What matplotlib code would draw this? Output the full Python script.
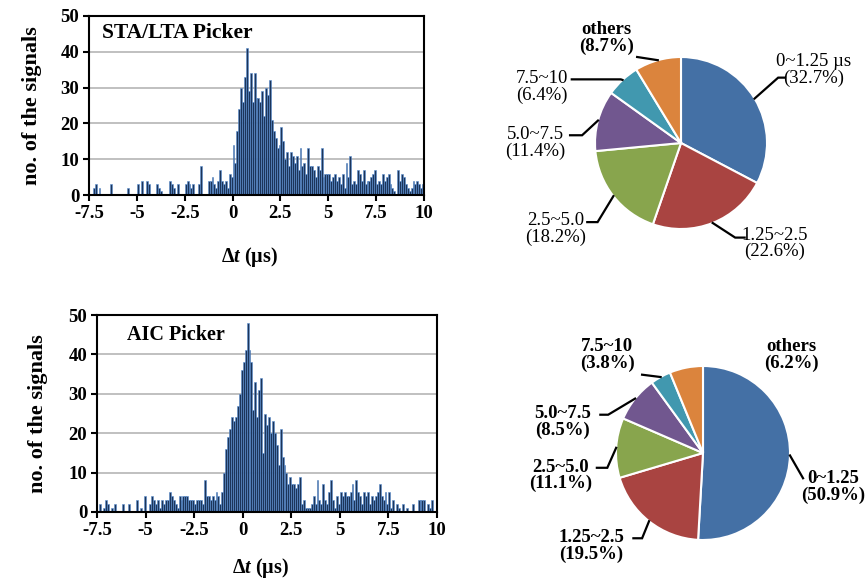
import numpy as np
import matplotlib.pyplot as plt

plt.rcParams['font.family'] = ['Liberation Serif', 'DejaVu Serif']
plt.rcParams['axes.unicode_minus'] = False
plt.rcParams['mathtext.fontset'] = 'custom'
plt.rcParams['mathtext.rm'] = 'Liberation Serif:bold'
plt.rcParams['mathtext.it'] = 'Liberation Serif:italic:bold'
plt.rcParams['mathtext.bf'] = 'Liberation Serif:bold'

# histogram bins: 0.1 us wide, starting at -7.5 us
bin_start = -7.5
bin_width = 0.1

# STA/LTA picker counts, one row per 1 us (-7.5 ... 9.9)
sta_counts = [
    0, 0, 2, 3, 0, 2, 0, 0, 0, 0,
    0, 3, 0, 0, 0, 0, 0, 0, 0, 0,
    2, 0, 0, 0, 0, 3, 0, 4, 0, 0,
    4, 3, 0, 0, 0, 3, 2, 1, 0, 0,
    0, 0, 4, 3, 2, 0, 3, 0, 0, 0,
    3, 4, 3, 2, 3, 0, 0, 3, 8, 0,
    0, 0, 4, 4, 5, 3, 2, 4, 7, 4,
    3, 4, 2, 6, 5, 14, 9, 18, 24, 30,
    26, 33, 41, 29, 34, 26, 34, 27, 27, 26,
    29, 22, 30, 28, 32, 21, 18, 16, 13, 14,
    19, 15, 10, 12, 8, 12, 11, 9, 11, 7,
    13, 8, 9, 6, 13, 8, 8, 7, 5, 8,
    7, 13, 5, 6, 6, 6, 4, 5, 6, 4,
    5, 3, 6, 2, 9, 5, 11, 3, 4, 3,
    7, 6, 4, 7, 3, 4, 4, 5, 6, 7,
    3, 4, 3, 6, 4, 5, 6, 3, 2, 1,
    0, 7, 4, 6, 5, 3, 2, 1, 2, 4,
    3, 4, 3, 2, 3,
]

# AIC picker counts
aic_counts = [
    0, 2, 0, 1, 3, 2, 0, 1, 0, 2,
    0, 0, 0, 2, 0, 0, 2, 0, 0, 0,
    3, 0, 1, 0, 4, 0, 0, 2, 4, 3,
    2, 3, 1, 3, 2, 3, 3, 5, 4, 3,
    2, 1, 4, 3, 4, 4, 4, 3, 3, 3,
    2, 3, 3, 3, 2, 8, 4, 4, 3, 4,
    3, 5, 4, 2, 5, 10, 16, 19, 21, 24,
    23, 24, 27, 30, 36, 38, 41, 48, 41, 38,
    26, 33, 24, 31, 34, 15, 25, 22, 24, 20,
    23, 20, 17, 12, 21, 14, 12, 10, 7, 9,
    7, 7, 6, 7, 9, 2, 3, 1, 1, 1,
    2, 4, 2, 8, 3, 2, 7, 3, 2, 5,
    8, 3, 1, 4, 2, 5, 4, 5, 4, 4,
    5, 7, 3, 8, 5, 4, 2, 5, 4, 5,
    2, 4, 3, 4, 5, 7, 4, 3, 5, 2,
    5, 1, 3, 0, 2, 1, 0, 2, 0, 1,
    0, 0, 2, 0, 0, 3, 3, 3, 3, 0,
    2, 1, 3, 0, 0,
]

x_ticks = [-7.5, -5, -2.5, 0, 2.5, 5, 7.5, 10]
x_tick_labels = ['-7.5', '-5', '-2.5', '0', '2.5', '5', '7.5', '10']
y_ticks = [0, 10, 20, 30, 40, 50]

# pie data (clockwise from 12 o'clock)
sta_ranges = ['0~1.25 µs', '1.25~2.5', '2.5~5.0', '5.0~7.5', '7.5~10', 'others']
sta_share = [32.7, 22.6, 18.2, 11.4, 6.4, 8.7]
aic_ranges = ['0~1.25', '1.25~2.5', '2.5~5.0', '5.0~7.5', '7.5~10', 'others']
aic_share = [50.9, 19.5, 11.1, 8.5, 3.8, 6.2]
pie_colors = ['#4470a5', '#a94441', '#88a54d', '#71578f', '#4198af', '#db843d']

W, H = 867, 581
fig = plt.figure(figsize=(W / 100, H / 100), dpi=100)


def draw_hist(box, counts, title, title_xy, title_size, ylabel_x, xlabel_y):
    l, t, r, b = box
    ax = fig.add_axes([l / W, 1 - b / H, (r - l) / W, (b - t) / H])
    left = bin_start + bin_width * np.arange(len(counts))
    ax.bar(left, counts, width=bin_width, align='edge', color='#1c355a',
           edgecolor='#5a8fd2', linewidth=0.4, zorder=2)
    ax.set_xlim(-7.5, 10)
    ax.set_ylim(0, 50)
    ax.set_xticks(x_ticks)
    ax.set_xticklabels(x_tick_labels)
    ax.set_yticks(y_ticks)
    ax.yaxis.grid(True, color='#b5b5b5', linewidth=1.2)
    ax.set_axisbelow(True)
    for s in ax.spines.values():
        s.set_linewidth(1.5)
        s.set_color('black')
    ax.tick_params(direction='out', length=4, width=1.5, labelsize=13.5, pad=3)
    for lab in ax.get_xticklabels() + ax.get_yticklabels():
        lab.set_fontweight('bold')
    ax.set_ylabel('no. of the signals', fontsize=16, fontweight='bold')
    ax.yaxis.set_label_coords(ylabel_x, 0.5)
    ax.set_xlabel(r'$\Delta\mathit{t}$ (µs)', fontsize=14.5, fontweight='bold')
    ax.xaxis.set_label_coords(0.48, xlabel_y)
    ax.text(title_xy[0], title_xy[1], title, transform=ax.transAxes,
            fontsize=title_size, fontweight='bold', ha='left', va='center')


def draw_pie(center, r, shares, names, specs, weight, size):
    cx, cy = center
    half = 2.2
    ax = fig.add_axes([(cx - half * r) / W, (H - cy - half * r) / H,
                       2 * half * r / W, 2 * half * r / H])
    wedges, _ = ax.pie(shares, colors=pie_colors, startangle=90, counterclock=False,
                       wedgeprops=dict(edgecolor='white', linewidth=1.5))
    ax.set_xlim(-half, half)
    ax.set_ylim(-half, half)
    for w, name, v, spec in zip(wedges, names, shares, specs):
        tx, ty, leader = spec
        fw = 'bold' if (weight == 'bold' or name == 'others') else 'normal'
        ax.text(tx, ty, f'{name}\n({v:.1f}%)', ha='center', va='center',
                fontsize=size, fontweight=fw, linespacing=0.95)
        if leader is None:
            continue
        mid = np.deg2rad((w.theta1 + w.theta2) / 2)
        ex, ey = np.cos(mid), np.sin(mid)
        bx, by, endx = leader
        ax.plot([ex, bx, endx], [ey, by, by], color='black', lw=1.6,
                solid_joinstyle='miter')


draw_hist((89, 16, 424, 195), sta_counts, 'STA/LTA Picker', (0.04, 0.905), 15.5,
          -0.14, -0.28)
draw_hist((97, 315, 437, 512), aic_counts, 'AIC Picker', (0.088, 0.90), 14.5,
          -0.144, -0.225)

sta_specs = [
    (1.54, 0.85, (1.13, 0.76, 1.21)),
    (1.09, -1.17, (0.63, -1.10, 0.74)),
    (-1.46, -1.00, (-0.97, -0.92, -1.09)),
    (-1.69, 0.00, (-1.15, 0.09, -1.29)),
    (-1.62, 0.65, (-0.70, 0.74, -1.27)),
    (-0.87, 1.22, (-0.51, 1.00, -0.51)),
]
aic_specs = [
    (1.50, -0.39, (1.15, -0.29, 1.15)),
    (-1.28, -1.07, (-0.70, -0.98, -0.80)),
    (-1.64, -0.26, (-1.10, -0.17, -1.22)),
    (-1.61, 0.36, (-1.09, 0.44, -1.18)),
    (-1.10, 1.13, (-0.70, 0.90, -0.70)),
    (1.02, 1.13, None),
]
draw_pie((681, 143), 86, sta_share, sta_ranges, sta_specs, 'normal', 13.5)
draw_pie((703, 453), 87, aic_share, aic_ranges, aic_specs, 'bold', 13.5)

fig.savefig('out.png', dpi=100)
